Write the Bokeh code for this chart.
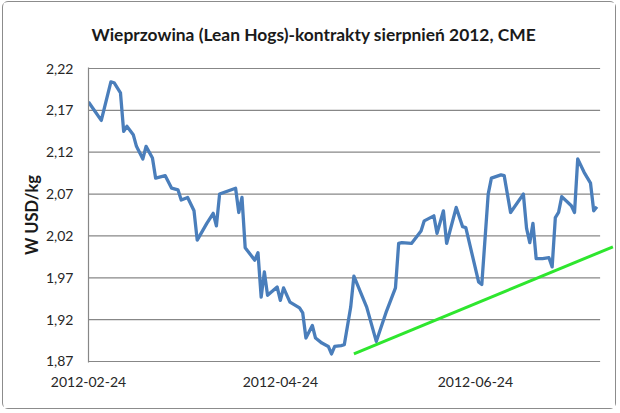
import pandas as pd
from bokeh.plotting import figure
from bokeh.models import Range1d, FixedTicker, CustomJSTickFormatter
from bokeh.embed import file_html
from bokeh.resources import INLINE

# ---- data ----
dates = [
    "2012-02-24", "2012-02-28", "2012-03-02", "2012-03-03", "2012-03-05", "2012-03-06",
    "2012-03-07", "2012-03-09", "2012-03-10", "2012-03-12", "2012-03-13", "2012-03-15",
    "2012-03-16", "2012-03-19", "2012-03-21", "2012-03-23", "2012-03-24", "2012-03-26",
    "2012-03-28", "2012-03-29", "2012-04-01", "2012-04-03", "2012-04-04", "2012-04-05",
    "2012-04-10", "2012-04-11", "2012-04-12", "2012-04-13", "2012-04-16", "2012-04-17",
    "2012-04-18", "2012-04-19", "2012-04-20", "2012-04-23", "2012-04-24", "2012-04-25",
    "2012-04-27", "2012-04-30", "2012-05-01", "2012-05-02", "2012-05-04", "2012-05-05",
    "2012-05-07", "2012-05-09", "2012-05-10", "2012-05-11", "2012-05-13", "2012-05-14",
    "2012-05-16", "2012-05-17", "2012-05-21", "2012-05-24", "2012-05-27", "2012-05-30",
    "2012-05-31", "2012-06-01", "2012-06-04", "2012-06-07", "2012-06-08", "2012-06-11",
    "2012-06-12", "2012-06-14", "2012-06-15", "2012-06-18", "2012-06-20", "2012-06-21",
    "2012-06-25", "2012-06-26", "2012-06-28", "2012-06-29", "2012-07-02", "2012-07-03",
    "2012-07-05", "2012-07-09", "2012-07-10", "2012-07-11", "2012-07-12", "2012-07-13",
    "2012-07-15", "2012-07-17", "2012-07-18", "2012-07-19", "2012-07-20", "2012-07-21",
    "2012-07-24", "2012-07-25", "2012-07-26", "2012-07-28", "2012-07-30", "2012-07-31",
    "2012-08-01",
]
prices = [
    2.180, 2.158, 2.204, 2.203, 2.191, 2.145,
    2.151, 2.141, 2.127, 2.112, 2.127, 2.113,
    2.089, 2.092, 2.077, 2.075, 2.063, 2.066,
    2.050, 2.015, 2.035, 2.047, 2.032, 2.070,
    2.077, 2.048, 2.066, 2.006, 1.991, 2.000,
    1.947, 1.977, 1.949, 1.959, 1.943, 1.958,
    1.941, 1.934, 1.928, 1.898, 1.913, 1.898,
    1.892, 1.888, 1.879, 1.888, 1.889, 1.890,
    1.935, 1.972, 1.935, 1.894, 1.928, 1.958,
    2.011, 2.012, 2.011, 2.026, 2.038, 2.044,
    2.023, 2.050, 2.011, 2.054, 2.031, 2.030,
    1.965, 1.962, 2.070, 2.089, 2.093, 2.092,
    2.048, 2.070, 2.029, 2.012, 2.035, 1.993,
    1.993, 1.994, 1.983, 2.042, 2.048, 2.067,
    2.056, 2.048, 2.112, 2.096, 2.083, 2.050,
    2.055,
]
trend_dates = ["2012-05-17", "2012-08-06"]
trend_values = [1.879, 2.007]

y_ticks = [1.87, 1.92, 1.97, 2.02, 2.07, 2.12, 2.17, 2.22]
x_tick_dates = ["2012-02-24", "2012-04-24", "2012-06-24"]
axis_start = "2012-02-24"
grid_end = "2012-08-02"
axis_end = "2012-08-06 12:00"

title_text = "Wieprzowina (Lean Hogs)-kontrakty sierpnień 2012, CME"
y_label = "W USD/kg"


def ms(d):
    return pd.Timestamp(d).value // 10**6


xs = [ms(d) for d in dates]
tx = [ms(d) for d in trend_dates]

FONT = "Lato"
TXT = "#262626"
GRID = "#878787"

W, H = 614, 408
ML, MR, MT, MB = 85, 3, 65, 48

p = figure(
    width=W, height=H,
    x_axis_type="datetime",
    x_range=Range1d(ms(axis_start), ms(axis_end)),
    y_range=Range1d(y_ticks[0] - 0.0012, y_ticks[-1] + 0.0012),
    output_backend="svg", toolbar_location=None,
    min_border_left=ML, min_border_right=MR,
    min_border_top=MT, min_border_bottom=MB,
)
p.styles = {"margin-left": "2px", "margin-top": "1px",
            "border": "1px solid #8c8c8c", "border-radius": "6px"}
p.background_fill_color = "white"
p.border_fill_color = "white"
p.outline_line_color = None
p.xgrid.visible = False
p.ygrid.visible = False

# horizontal gridlines (plot area ends before the frame edge so the trend line can overhang)
n = len(y_ticks)
p.segment(x0=[ms(axis_start)] * n, y0=y_ticks, x1=[ms(grid_end)] * n, y1=y_ticks,
          line_color=GRID, line_width=1.2)

p.line(xs, prices, line_color="#4a7ebb", line_width=3.3, line_join="round")
p.line(tx, trend_values, line_color="#2ee62e", line_width=3)

# title
p.title.text = title_text
p.title.text_font = FONT
p.title.text_font_style = "bold"
p.title.text_font_size = "17.4px"
p.title.text_color = "#1a1a1a"
p.title.align = "left"
p.title.offset = 3
p.title.vertical_align = "top"
p.title.standoff = 42

# y axis
ya = p.yaxis[0]
ya.ticker = FixedTicker(ticks=y_ticks)
ya.formatter = CustomJSTickFormatter(code="return tick.toFixed(2).replace('.', ',');")
ya.major_tick_out = 0
ya.major_tick_in = 0
ya.minor_tick_out = 0
ya.minor_tick_in = 0
ya.axis_line_color = GRID
ya.axis_line_width = 1.2
ya.major_label_standoff = 15
ya.major_label_text_font = FONT
ya.major_label_text_font_size = "14px"
ya.major_label_text_color = TXT
ya.axis_label = y_label
ya.axis_label_text_font = FONT
ya.axis_label_text_font_style = "bold"
ya.axis_label_text_font_size = "16.5px"
ya.axis_label_text_color = "#1a1a1a"
ya.axis_label_standoff = 1

# x axis
xa = p.xaxis[0]
xa.ticker = FixedTicker(ticks=[ms(d) for d in x_tick_dates])
xa.formatter = CustomJSTickFormatter(code="return new Date(tick).toISOString().slice(0, 10);")
xa.axis_line_color = None
xa.major_tick_out = 0
xa.major_tick_in = 0
xa.minor_tick_out = 0
xa.minor_tick_in = 0
xa.major_label_standoff = 14
xa.major_label_text_font = FONT
xa.major_label_text_font_size = "14px"
xa.major_label_text_color = TXT

open("out.html", "w").write(file_html(p, INLINE))
